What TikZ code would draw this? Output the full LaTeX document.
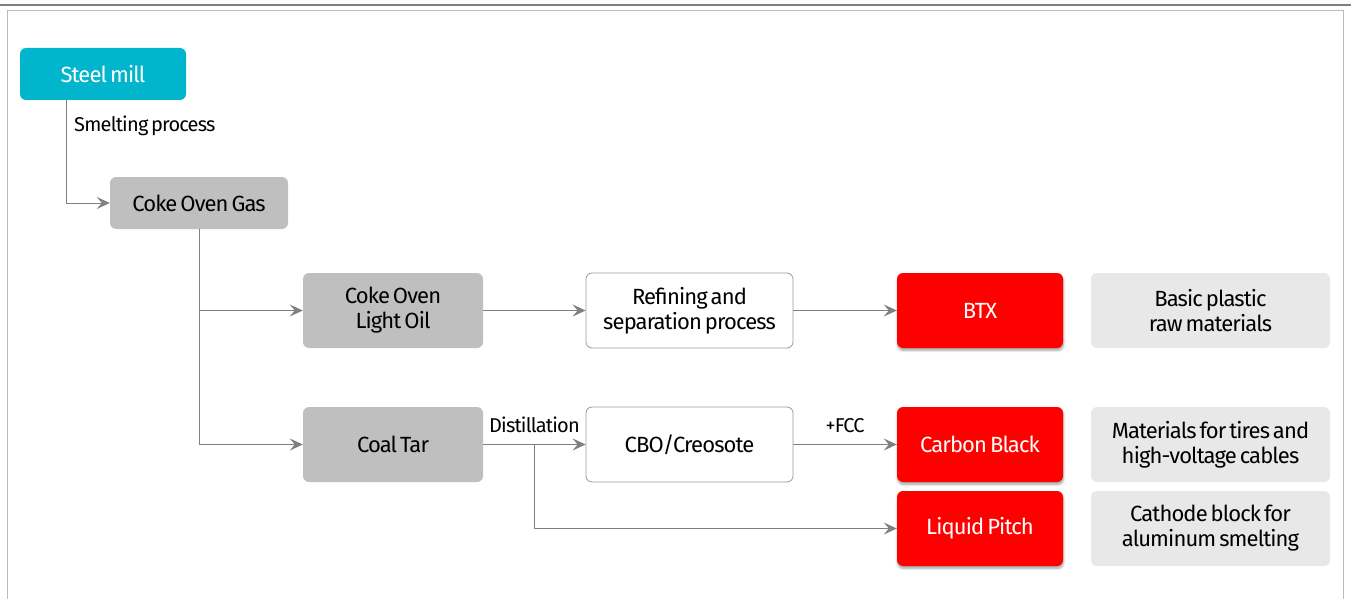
\documentclass[tikz,border=0pt]{standalone}
\usepackage{fontspec}
\setmainfont{Fira Sans}[WordSpace=0.6, LetterSpace=-4]
\usetikzlibrary{arrows.meta, shadows.blur}
\definecolor{millcyan}{HTML}{00B5CC}
\definecolor{stepgray}{HTML}{BFBFBF}
\definecolor{usegray}{HTML}{E8E8E8}
\definecolor{linkgray}{HTML}{808080}
\definecolor{framegray}{HTML}{BBBBBB}

\begin{document}
\begin{tikzpicture}[x=1pt, y=-1pt, font=\fontsize{22}{25}\selectfont,
	box/.style={rounded corners=6pt, minimum height=75pt, align=center, inner sep=2pt},
	source/.style={box, fill=millcyan, text=white, minimum width=166pt, minimum height=52pt},
	stage/.style={box, fill=stepgray, minimum width=180pt},
	process/.style={box, draw=linkgray!80, line width=0.8pt, fill=white, minimum width=207pt},
	product/.style={box, fill=red, text=white, minimum width=166pt,
		blur shadow={shadow xshift=0.5pt, shadow yshift=-2.5pt, shadow blur steps=6, shadow opacity=35}},
	usage/.style={box, fill=usegray, minimum width=239pt},
	link/.style={draw=linkgray, line width=1pt, -{Stealth[length=13pt, width=12pt, inset=5pt]}},
	tag/.style={font=\fontsize{20}{23}\selectfont, inner sep=2pt}]
					\useasboundingbox (0,0) rectangle (1351,599);
					\draw[linkgray, line width=2pt] (0,5) -- (1351,5);
					\draw[framegray, line width=1pt] (7,605) -- (7,11) -- (1343,11) -- (1343,605);

					\node[source] (steel) at (103,74) {Steel mill};
					\node[stage, minimum width=178pt, minimum height=52pt] (cog) at (199,203) {Coke Oven Gas};

					\node[stage] (light) at (393,310.5) {Coke Oven\\Light Oil};
					\node[stage] (tar) at (393,444.5) {Coal Tar};

					\node[process] (refine) at (689.5,310.5) {Refining and\\separation process};
					\node[process] (cbo) at (689.5,444.5) {CBO/Creosote};

					\node[product] (btx) at (980,310.5) {BTX};
					\node[product] (black) at (980,444.5) {Carbon Black};
					\node[product] (pitch) at (980,528.5) {Liquid Pitch};

					\node[usage] (plastic) at (1210.5,310.5) {Basic plastic\\raw materials};
					\node[usage] (tires) at (1210.5,444.5) {Materials for tires and\\high-voltage cables};
					\node[usage] (cathode) at (1210.5,528.5) {Cathode block for\\aluminum smelting};

					\draw[link] ([xshift=-37]steel.south) |- (cog);
					\node[tag, anchor=west] (smelt) at (72,126) {Smelting process};

					\draw[link] (cog.south) |- (light);
					\draw[link] (cog.south) |- (tar);
					\draw[link] (light) -- (refine);
					\draw[link] (refine) -- (btx);
					\draw[link] (tar) -- node[tag, above, yshift=9pt] {Distillation} (cbo);
					\draw[link] (cbo) -- node[tag, above, yshift=9pt] {+FCC} (black);
					\draw[link] ([xshift=51]tar.east) |- (pitch);
				\end{tikzpicture}
\end{document}
